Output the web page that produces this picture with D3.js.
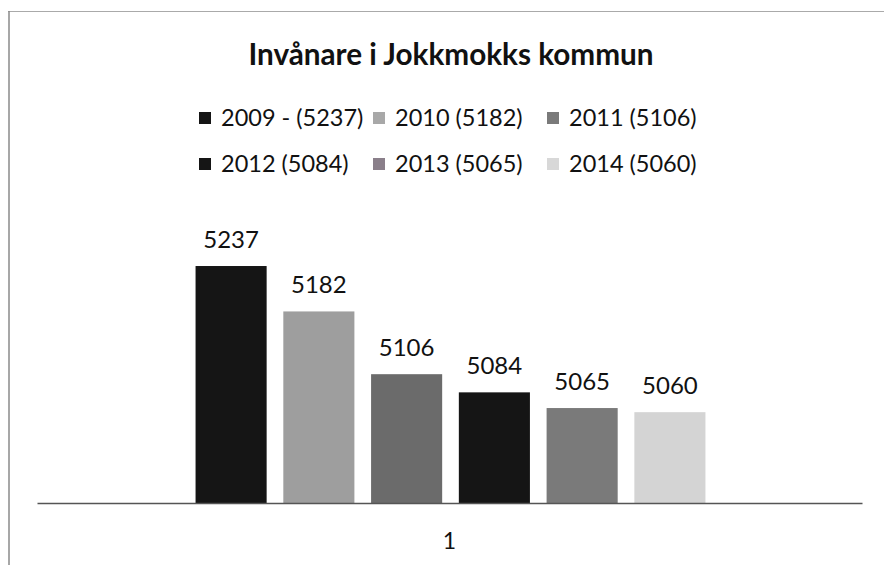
<!DOCTYPE html>
<html>
<head>
<meta charset="utf-8">
<script src="https://cdn.jsdelivr.net/npm/d3@7"></script>
<style>
  body { margin: 0; background: #fff; }
  text { font-family: Lato, "Open Sans", sans-serif; fill: #111; }
</style>
</head>
<body>
<div id="chart"></div>
<script>
const categories = ["1"];
const years = ["2009", "2010", "2011", "2012", "2013", "2014"];
const legendLabels = ["2009 - (5237)", "2010 (5182)", "2011 (5106)", "2012 (5084)", "2013 (5065)", "2014 (5060)"];
const values = [5237, 5182, 5106, 5084, 5065, 5060];
const colors = ["#151515", "#9e9e9e", "#6b6b6b", "#151515", "#7a7a7a", "#d4d4d4"];
const legendColors = ["#151515", "#a8a8a8", "#7a7a7a", "#151515", "#8a7f8a", "#d8d8d8"];

const width = 884, height = 565;
const plot = { left: 37, right: 862, top: 214, bottom: 503 };

const svg = d3.select("#chart")
    .append("svg")
    .attr("width", width)
    .attr("height", height);

// chart frame (only top and left edges show in the scan)
svg.append("line")
    .attr("x1", 8).attr("x2", width).attr("y1", 11.5).attr("y2", 11.5)
    .style("stroke", "#aaa").style("stroke-width", 1.2);
svg.append("line")
    .attr("x1", 9).attr("x2", 9).attr("y1", 11).attr("y2", height)
    .style("stroke", "#8a8a8a").style("stroke-width", 1.5);

svg.append("text")
    .attr("x", 451)
    .attr("y", 65)
    .attr("text-anchor", "middle")
    .style("font-weight", "bold")
    .style("font-size", "29.7px")
    .text("Invånare i Jokkmokks kommun");

// legend, 3 columns x 2 rows
const legend = svg.append("g");
const colW = 174, rowH = 46;
legendLabels.forEach((lab, i) => {
    const g = legend.append("g")
        .attr("transform", `translate(${199 + (i % 3) * colW},${118 + Math.floor(i / 3) * rowH})`);
    g.append("rect")
        .attr("x", 0).attr("y", -6)
        .attr("width", 12).attr("height", 12)
        .style("fill", legendColors[i]);
    g.append("text")
        .attr("x", 22)
        .attr("dy", "0.36em")
        .style("font-size", "23.5px")
        .text(lab);
});

const x0 = d3.scaleBand()
    .domain(categories)
    .range([plot.left, plot.right])
    .paddingOuter(0.309);

const x1 = d3.scaleBand()
    .domain(years)
    .range([0, x0.bandwidth()])
    .paddingInner(0.19);

const y = d3.scaleLinear()
    .domain([4950, 5300])
    .range([plot.bottom, plot.top]);

const bars = svg.append("g")
    .attr("transform", `translate(${x0("1") + 1},0)`);

bars.selectAll("rect")
    .data(values)
    .enter()
    .append("rect")
    .attr("x", (d, i) => x1(years[i]))
    .attr("y", d => y(d))
    .attr("width", x1.bandwidth())
    .attr("height", d => y(4950) - y(d))
    .style("fill", (d, i) => colors[i]);

bars.selectAll("text.val")
    .data(values)
    .enter()
    .append("text")
    .attr("class", "val")
    .attr("x", (d, i) => x1(years[i]) + x1.bandwidth() / 2)
    .attr("y", d => y(d) - 18)
    .attr("text-anchor", "middle")
    .style("font-size", "24px")
    .text(d => d);

const xAxis = svg.append("g")
    .attr("transform", `translate(0,${plot.bottom})`)
    .call(d3.axisBottom(x0).tickSize(0).tickPadding(30));
xAxis.select(".domain").style("stroke", "#555").style("stroke-width", 1.5);
xAxis.selectAll("text")
    .style("font-size", "23px")
    .style("font-family", "Lato, sans-serif")
    .attr("fill", "#111");
</script>
</body>
</html>
